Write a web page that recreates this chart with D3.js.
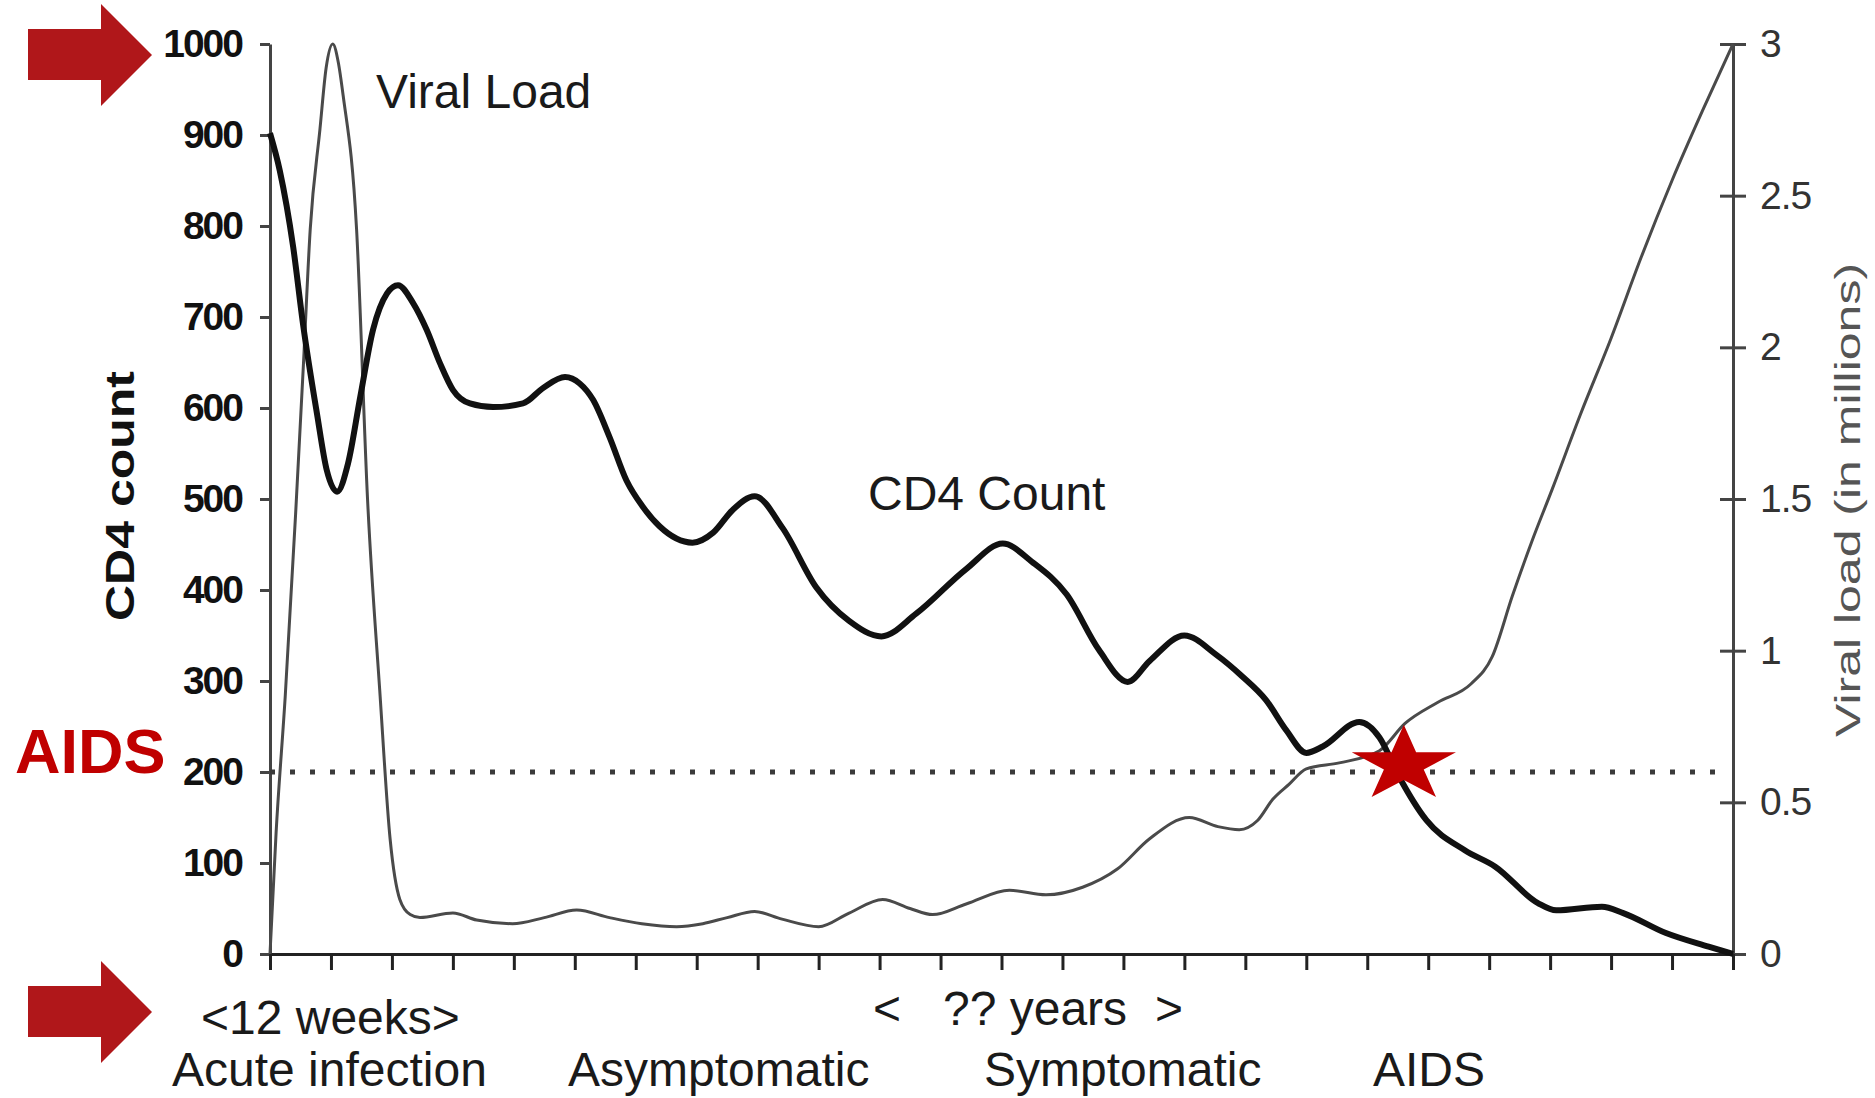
<!DOCTYPE html>
<html>
  <head>
    <meta charset="utf-8">
    <script src="https://d3js.org/d3.v7.min.js"></script>
    <title>CD4 count and viral load</title>
    <style>
      body {
        margin: 0;
        background: #fff;
      }
      svg {
        display: block;
        font-family: "Liberation Sans", Arial, sans-serif;
      }
      .left-axis text {
        font-size: 39px;
        font-weight: bold;
        letter-spacing: -2px;
        fill: #111;
      }
      .right-axis text {
        font-size: 39px;
        letter-spacing: -1px;
        fill: #333;
      }
      .note {
        font-size: 48px;
        fill: #1a1a1a;
      }
    </style>
  </head>
  <body>
    <svg width="1875" height="1098"></svg>
    <script>
      // values (time in axis steps, 24 steps wide)
      const cd4Time = [0, 0.16, 0.38, 0.54, 0.77, 0.93, 1.1, 1.28, 1.48, 1.69,
        1.92, 2.1, 2.35, 2.57, 2.79, 3.0, 3.28, 3.66, 4.15, 4.48,
        4.84, 5.08, 5.3, 5.57, 5.85, 6.11, 6.39, 6.93, 7.27, 7.59,
        7.95, 8.41, 8.96, 9.5, 10.03, 10.6, 11.42, 12.02, 12.5, 13.07,
        13.6, 14.07, 14.43, 15.0, 15.52, 15.95, 16.34, 16.67, 17.0, 17.27,
        17.87, 18.2, 18.52, 18.97, 19.6, 20.1, 20.8, 21.1, 21.85, 22.2,
        22.9, 23.6, 24];
      const cd4Count = [902, 861, 777, 693, 594, 532, 508, 539, 612, 686,
        726, 735, 715, 686, 649, 620, 605, 601, 605, 622,
        634, 627, 609, 568, 520, 492, 470, 452, 463, 488,
        503, 468, 403, 366, 349, 374, 423, 451, 431, 395,
        334, 299, 322, 350, 329, 305, 279, 246, 221, 228,
        255, 238, 195, 147, 114, 96, 56, 48, 52, 45,
        23, 8, 0];

      const viralTime = [0, 0.1, 0.25, 0.42, 0.55, 0.66, 0.82, 0.92, 1.03, 1.12, 1.2, 1.42,
        1.6, 1.8, 1.97, 2.13, 2.3, 2.46, 3.0, 3.39, 3.98, 4.5,
        5.03, 5.57, 6.1, 6.67, 7.1, 7.5, 7.95, 8.4, 9.0, 9.5,
        10.05, 10.5, 10.87, 11.42, 12.13, 12.73, 13.33, 13.9, 14.43, 15.08,
        15.55, 15.9, 16.2, 16.45, 16.72, 17.0, 17.54, 18.2, 18.62, 19.16,
        19.7, 20.05, 20.38, 20.7, 21.03, 21.5, 22.0, 22.5, 23.0, 23.5, 24.0];
      const viralLoad = [0, 0.4, 0.85, 1.45, 1.95, 2.39, 2.72, 2.92, 3.0, 2.94, 2.83, 2.39,
        1.5, 0.87, 0.38, 0.18, 0.13, 0.12, 0.135, 0.112, 0.10, 0.12,
        0.145, 0.12, 0.1, 0.09, 0.1, 0.12, 0.14, 0.115, 0.09, 0.135,
        0.18, 0.15, 0.13, 0.165, 0.21, 0.195, 0.22, 0.28, 0.38, 0.45,
        0.42, 0.41, 0.44, 0.51, 0.56, 0.61, 0.63, 0.67, 0.76, 0.83,
        0.89, 0.98, 1.18, 1.36, 1.53, 1.78, 2.03, 2.3, 2.55, 2.78, 3.0];

      const cd4Ticks = [0, 100, 200, 300, 400, 500, 600, 700, 800, 900, 1000];
      const viralTicks = [0, 0.5, 1, 1.5, 2, 2.5, 3];
      const timeTicks = [0, 1, 2, 3, 4, 5, 6, 7, 8, 9, 10, 11, 12,
        13, 14, 15, 16, 17, 18, 19, 20, 21, 22, 23, 24];

      const aidsLine = {from: 0, to: 23.8, cd4: 200};
      const aidsPoint = {time: 18.6, cd4: 208};

      const svg = d3.select('svg');
      const margin = {left: 270, right: 142, top: 44, bottom: 144};
      const innerWidth = +svg.attr('width') - margin.left - margin.right;
      const innerHeight = +svg.attr('height') - margin.top - margin.bottom;

      const g = svg.append('g')
        .attr('transform', `translate(${margin.left},${margin.top})`);

      const xScale = d3.scaleLinear().domain([0, 24]).range([0, innerWidth]);
      const yScale = d3.scaleLinear().domain([0, 1000]).range([innerHeight, 0]);
      const y2Scale = d3.scaleLinear().domain([0, 3]).range([innerHeight, 0]);

      // axes
      const leftG = g.append('g').attr('class', 'left-axis')
        .call(d3.axisLeft(yScale).tickValues(cd4Ticks).tickSize(10)
          .tickSizeOuter(0).tickPadding(18).tickFormat(d3.format('d')));
      leftG.selectAll('path, line').attr('stroke', '#444').attr('stroke-width', 3);

      const rightG = g.append('g').attr('class', 'right-axis')
        .attr('transform', `translate(${innerWidth},0)`)
        .call(d3.axisRight(y2Scale).tickValues(viralTicks).tickSize(13)
          .tickSizeOuter(0).tickPadding(14).tickFormat(d3.format('')));
      rightG.selectAll('path, line').attr('stroke', '#444').attr('stroke-width', 3);
      rightG.selectAll('.tick line').attr('x1', -13);

      const bottomG = g.append('g')
        .attr('transform', `translate(0,${innerHeight})`)
        .call(d3.axisBottom(xScale).tickValues(timeTicks).tickSize(16)
          .tickSizeOuter(0).tickFormat(() => ''));
      bottomG.selectAll('path, line').attr('stroke', '#222').attr('stroke-width', 3);

      // AIDS threshold
      g.append('line')
        .attr('x1', xScale(aidsLine.from))
        .attr('x2', xScale(aidsLine.to))
        .attr('y1', yScale(aidsLine.cd4))
        .attr('y2', yScale(aidsLine.cd4))
        .attr('stroke', '#3a3a3a')
        .attr('stroke-width', 5)
        .attr('stroke-dasharray', '5 15');

      const viralLine = d3.line()
        .x((d, i) => xScale(viralTime[i]))
        .y(d => y2Scale(d))
        .curve(d3.curveMonotoneX);
      const cd4Line = d3.line()
        .x((d, i) => xScale(cd4Time[i]))
        .y(d => yScale(d))
        .curve(d3.curveMonotoneX);

      g.append('path').datum(viralLoad)
        .attr('d', viralLine)
        .attr('fill', 'none')
        .attr('stroke', '#4a4a4a')
        .attr('stroke-width', 3);

      g.append('path').datum(cd4Count)
        .attr('d', cd4Line)
        .attr('fill', 'none')
        .attr('stroke', '#111')
        .attr('stroke-width', 6)
        .attr('stroke-linejoin', 'round');

      g.append('path')
        .attr('d', d3.symbol(d3.symbolStar, 1796)())
        .attr('transform', `translate(${xScale(aidsPoint.time)},${yScale(aidsPoint.cd4)}) scale(1.37,1)`)
        .attr('fill', '#c00000');

      // labels inside the plot
      svg.append('text').attr('class', 'note')
        .attr('x', 376).attr('y', 108).text('Viral Load');
      svg.append('text').attr('class', 'note')
        .attr('x', 868).attr('y', 510).text('CD4 Count');

      // axis titles
      svg.append('text')
        .attr('transform', 'translate(134,496) rotate(-90) scale(1,0.82)')
        .attr('text-anchor', 'middle')
        .attr('font-size', 50)
        .attr('font-weight', 'bold')
        .attr('fill', '#111')
        .text('CD4 count');
      svg.append('text')
        .attr('transform', 'translate(1860,500) rotate(-90) scale(1,0.72)')
        .attr('text-anchor', 'middle')
        .attr('font-size', 50)
        .attr('fill', '#555')
        .text('Viral load (in millions)');

      // red annotations
      svg.append('text')
        .attr('x', 15).attr('y', 773)
        .attr('font-size', 63)
        .attr('font-weight', 'bold')
        .attr('fill', '#c00000')
        .text('AIDS');

      const arrow = cy => `M28,${cy - 26}H101V${cy - 51}L152,${cy}L101,${cy + 51}V${cy + 25}H28Z`;
      svg.append('path').attr('d', arrow(55)).attr('fill', '#b0171a');
      svg.append('path').attr('d', arrow(1012)).attr('fill', '#b0171a');

      // time line under the axis
      const notes = [
        {text: '<12 weeks>', x: 201, y: 1034},
        {text: '<', x: 873, y: 1025},
        {text: '?? years', x: 943, y: 1025},
        {text: '>', x: 1155, y: 1025},
        {text: 'Acute infection', x: 172, y: 1086},
        {text: 'Asymptomatic', x: 568, y: 1086},
        {text: 'Symptomatic', x: 984, y: 1086},
        {text: 'AIDS', x: 1373, y: 1086}
      ];
      svg.selectAll('text.stage').data(notes)
        .enter().append('text')
          .attr('class', 'note stage')
          .attr('x', d => d.x)
          .attr('y', d => d.y)
          .text(d => d.text);
    </script>
  </body>
</html>
